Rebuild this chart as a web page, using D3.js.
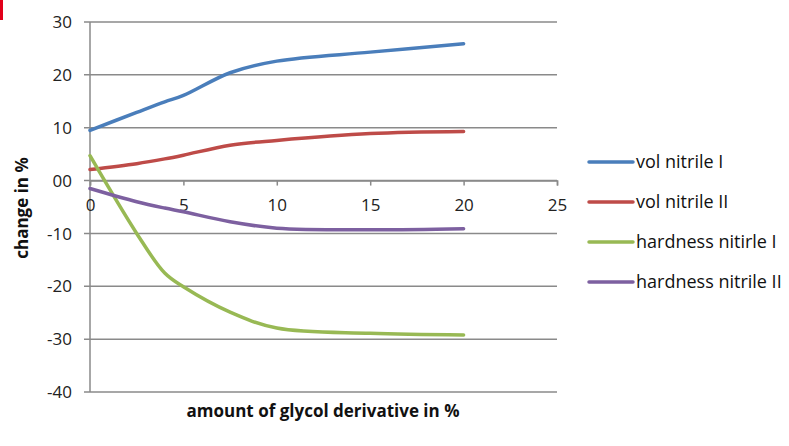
<!DOCTYPE html>
<html>
<head>
<meta charset="utf-8">
<script src="https://cdn.jsdelivr.net/npm/d3@7"></script>
<style>
  body { margin: 0; background: #fff; }
  svg { display: block; font-family: "Open Sans", Lato, sans-serif; }
</style>
</head>
<body>
<svg id="chart" width="789" height="446"></svg>
<script>
// values
var xValues = [0, 2.5, 4, 5, 7.5, 10, 15, 20];
var volNitrileI = [9.5, 12.9, 14.9, 16.1, 20.4, 22.6, 24.3, 25.9];
var volNitrileII = [2.1, 3.2, 4.1, 4.8, 6.7, 7.6, 8.9, 9.3];
var hardnessNitirleI = [4.7, -10, -17.5, -20.1, -24.9, -27.9, -28.9, -29.2];
var hardnessNitrileII = [-1.5, -4.0, -5.2, -5.9, -7.8, -9.0, -9.3, -9.1];
var seriesNames = ["vol nitrile I", "vol nitrile II", "hardness nitirle I", "hardness nitrile II"];
var seriesColors = ["#4a7ebb", "#be4b48", "#98b954", "#7d60a0"];
var yTicks = [30, 20, 10, 0, -10, -20, -30, -40];
var yTickLabels = ["30", "20", "10", "00", "-10", "-20", "-30", "-40"];
var xTicks = [0, 5, 10, 15, 20, 25];

var svg = d3.select("#chart");

// little red mark in the corner
svg.append("rect").attr("x", 0).attr("y", 0).attr("width", 3).attr("height", 20).attr("fill", "#e2001a");

var x = d3.scaleLinear().domain([0, 25]).range([90, 557]);
var y = d3.scaleLinear().domain([-40, 30]).range([392, 22]);

// gridlines
svg.append("g").selectAll("line").data(yTicks).join("line")
    .attr("x1", 84).attr("x2", 557)
    .attr("y1", function(d) { return y(d); }).attr("y2", function(d) { return y(d); })
    .attr("stroke", "#8a8a8a").attr("stroke-width", 1.5);

// y axis
svg.append("line").attr("x1", x(0)).attr("x2", x(0)).attr("y1", y(30)).attr("y2", y(-40))
    .attr("stroke", "#8a8a8a").attr("stroke-width", 1.5);

svg.append("g").selectAll("text").data(yTicks).join("text")
    .attr("x", 72).attr("y", function(d) { return y(d); }).attr("dy", "0.36em")
    .attr("text-anchor", "end").attr("font-size", 17).attr("fill", "#222")
    .text(function(d, i) { return yTickLabels[i]; });

// x axis on zero
var xAxis = d3.axisBottom(x).tickValues(xTicks).tickSize(5).tickPadding(13).tickFormat(d3.format("d"));
var xg = svg.append("g").attr("transform", "translate(0," + y(0) + ")").call(xAxis);
xg.select(".domain").attr("stroke", "#8a8a8a").attr("stroke-width", 1.5);
xg.selectAll(".tick line").attr("stroke", "#8a8a8a").attr("stroke-width", 1.5);
xg.selectAll(".tick text").attr("font-size", 17).attr("fill", "#222").attr("font-family", "'Open Sans', sans-serif");

// lines
var allSeries = [volNitrileI, volNitrileII, hardnessNitirleI, hardnessNitrileII];
var line = d3.line()
    .x(function(d, i) { return x(xValues[i]); })
    .y(function(d) { return y(d); })
    .curve(d3.curveCatmullRom);

svg.append("g").selectAll("path").data(allSeries).join("path")
    .attr("d", line)
    .attr("fill", "none")
    .attr("stroke", function(d, i) { return seriesColors[i]; })
    .attr("stroke-width", 3.5)
    .attr("stroke-linecap", "round");

// axis titles
svg.append("text").attr("x", 323).attr("y", 417).attr("text-anchor", "middle")
    .attr("font-size", 17).attr("font-weight", "bold").attr("fill", "#111")
    .text("amount of glycol derivative in %");
svg.append("text").attr("transform", "translate(28,208) rotate(-90)").attr("text-anchor", "middle")
    .attr("font-size", 17).attr("font-weight", "bold").attr("fill", "#111")
    .text("change in %");

// legend
var legend = svg.append("g").selectAll("g").data(seriesNames).join("g")
    .attr("transform", function(d, i) { return "translate(589," + (162 + i * 40) + ")"; });
legend.append("line").attr("x1", 0).attr("x2", 44).attr("y1", 0).attr("y2", 0)
    .attr("stroke", function(d, i) { return seriesColors[i]; })
    .attr("stroke-width", 3.5).attr("stroke-linecap", "round");
legend.append("text").attr("x", 47).attr("dy", "0.36em").attr("font-size", 18).attr("fill", "#111")
    .text(function(d) { return d; });
</script>
</body>
</html>
